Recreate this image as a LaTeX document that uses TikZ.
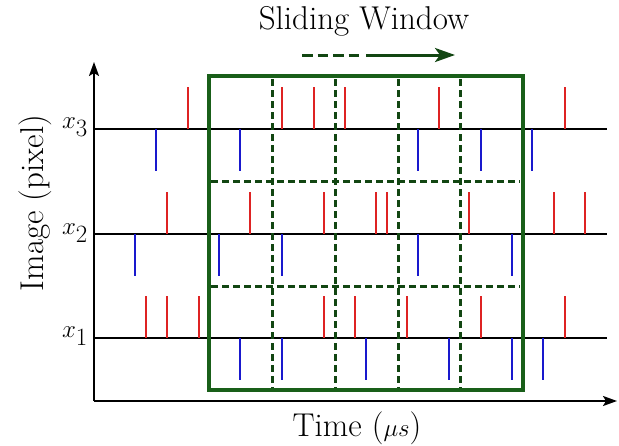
\documentclass[tikz,border=0pt]{standalone}
\usetikzlibrary{arrows.meta}
\definecolor{boxgreen}{RGB}{25,95,25}
\definecolor{dashgreen}{RGB}{18,70,18}
\definecolor{spred}{RGB}{222,35,35}
\definecolor{spblue}{RGB}{25,25,205}
\begin{document}
\begin{tikzpicture}[x=1pt,y=-1pt,
  rowline/.style={black,line width=1.8pt},
  axisline/.style={black,line width=2pt,-{Stealth[length=14pt,width=10pt,inset=3pt]}},
  redspike/.style={spred,line width=1.9pt},
  bluespike/.style={spblue,line width=1.9pt},
  gridline/.style={dashgreen,line width=3pt,dash pattern=on 7pt off 4pt},
  winbox/.style={boxgreen,line width=3.5pt},
  bigtext/.style={font=\fontsize{33}{40}\selectfont,inner sep=0pt},
  movearrow/.style={dashgreen,line width=3pt}]
\useasboundingbox (0,0) rectangle (619,445);
% coordinates
\coordinate (O) at (94,401);
\coordinate (ytop) at (94,62);
\coordinate (xend) at (617,401);
% row lines
\foreach \yy/\nm in {129/r3,234/r2,338/r1}{
  \coordinate (\nm s) at (94,\yy);
  \coordinate (\nm e) at (607,\yy);
  \draw[rowline] (\nm s) -- (\nm e);
}
% spikes row 3
\foreach \xx in {188,282,314,345,439,565}
  \draw[redspike] (\xx,129) -- ++(0,-42);
\foreach \xx in {156,240,418,481,532}
  \draw[bluespike] (\xx,129) -- ++(0,42);
% spikes row 2
\foreach \xx in {167,250,324,376,387,469,554,585}
  \draw[redspike] (\xx,234) -- ++(0,-42);
\foreach \xx in {135,219,282,418,512}
  \draw[bluespike] (\xx,234) -- ++(0,42);
% spikes row 1
\foreach \xx in {146,167,199,324,355,407,481,565}
  \draw[redspike] (\xx,338) -- ++(0,-42);
\foreach \xx in {240,282,366,449,512,543}
  \draw[bluespike] (\xx,338) -- ++(0,42);
% dashed grid
\foreach \xx in {272,335,398,460}
  \draw[gridline] (\xx,79) -- (\xx,390);
\foreach \yy in {181,286}
  \draw[gridline] (211,\yy) -- (520,\yy);
% window box
\draw[winbox] (209,76) rectangle (523,390);
% axes
\draw[axisline] (O) -- (ytop);
\draw[axisline] (O) -- (xend);
% labels
\node[bigtext,anchor=east] (lx3) at (88,127) {$x_3$};
\node[bigtext,anchor=east] (lx2) at (88,233) {$x_2$};
\node[bigtext,anchor=east] (lx1) at (88,336) {$x_1$};
\node[bigtext,anchor=base] (tl) at (357,436.5) {Time ($\mu s$)};
\node[bigtext,anchor=base,rotate=90] (yl) at (43,203) {Image (pixel)};
\node[bigtext,anchor=base] (sw) at (364,29) {Sliding Window};
% sliding arrow
\coordinate (a1) at (302,55);
\coordinate (a2) at (359,55);
\coordinate (a3) at (366,55);
\coordinate (a4) at (455,55);
\draw[movearrow,dash pattern=on 10.5pt off 5pt] (a1) -- (a2);
\draw[movearrow,-{Stealth[length=20pt,width=14pt,inset=5pt]}] (a3) -- (a4);
\end{tikzpicture}
\end{document}
